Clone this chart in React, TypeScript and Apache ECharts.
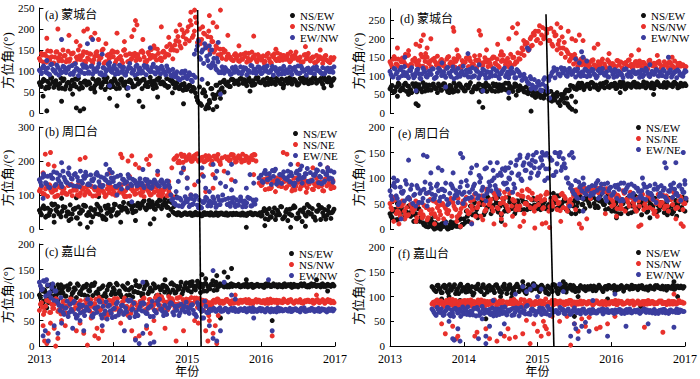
import React, { useEffect, useRef } from "react";
import * as echarts from "echarts";

const _ = null;

// ---------- tick labels ----------
const YEARS = [2013, 2014, 2015, 2016, 2017];

// ---------- data: primary samples every 1/36 year from 2013, secondary/tertiary every 1/18 year ----------
// (a) 蒙城台 left
const aBlackP = [
72,63,80,58,75,68,84,61,77,66,70,59,
81,64,73,57,78,69,62,83,71,60,76,67,
74,58,82,65,70,79,61,73,56,84,68,75,
63,77,70,59,81,66,74,60,79,71,64,82,
69,75,58,80,72,63,85,67,76,61,78,70,
74,66,82,63,77,70,60,72,58,66,54,63,
57,66,52,61,48,30,62,18,55,40,70,25,
58,35,66,45,72,60,78,68,74,63,80,70,
76,68,82,71,79,65,84,73,77,69,81,74,
72,79,67,83,75,70,85,68,78,73,81,66,
77,71,84,69,80,74,67,82,76,72,85,70,
79,73,86,71,77,82,68,80,75,84,72,78];
const aBlackS = [
66,78,60,74,69,83,57,72,65,80,62,76,
70,58,79,67,75,61,82,68,73,59,77,64,
71,80,63,76,68,84,72,61,78,66,59,70,
62,54,38,22,50,12,44,66,57,72,63,79,
74,82,70,78,67,84,75,71,80,73,77,69,
81,74,78,70,83,76,72,80,77,85,74,79];
const aBlackT = [
75,62,83,68,59,77,71,64,81,57,73,69,
60,76,70,84,63,72,58,79,67,75,62,81,
77,65,74,58,81,70,66,79,73,61,68,56,
64,58,25,48,15,58,35,50,75,66,80,73,
80,71,76,66,83,73,79,68,75,82,70,78,
73,79,67,82,75,71,84,77,73,80,76,82];
const aBlackO = [[2013.05,40],[2013.1,5],[2013.3,28],[2013.5,12],[2013.55,5],[2013.6,10],[2013.45,45],[2013.75,50],[2013.95,35],[2014.05,17],[2014.2,42],[2014.35,28],[2014.4,15],[2014.8,48],[2014.95,22],[2014.6,38],[2015.25,10],[2015.28,20],[2015.35,8],[2015.3,30],[2015.4,15],[2015.38,42],[2015.45,35],[2015.5,50],[2016.3,60],[2016.85,60],[2016.95,65],[2015.85,52]];

const aRedP = [
130,142,121,137,148,126,134,119,145,131,139,124,
136,122,147,129,141,118,133,150,127,138,123,144,
128,140,119,135,146,124,132,152,121,137,129,143,
134,120,145,131,126,149,138,122,141,130,136,125,
139,127,148,133,121,144,130,137,155,126,142,131,
145,133,158,138,150,129,162,148,170,155,182,165,
195,172,210,185,228,168,200,175,190,158,182,150,
170,145,160,138,152,130,145,128,140,133,126,138,
131,124,139,128,135,121,142,127,133,138,122,130,
126,136,123,140,129,119,134,128,143,125,131,137,
128,140,122,135,130,145,126,133,121,138,129,142,
124,133,120,137,128,131,118,135,126,122,132,127];
const aRedS = [
125,140,132,118,146,129,137,123,143,128,135,120,
141,127,136,149,122,133,145,130,119,138,127,142,
130,144,125,151,136,128,147,139,158,172,160,190,
205,180,215,165,188,195,170,155,140,148,132,125,
136,129,143,124,132,139,127,135,121,141,130,126,
133,125,138,128,122,136,130,119,134,127,124,130];
const aRedT = [
138,121,147,133,124,150,127,141,119,136,146,131,
124,143,130,118,139,148,126,135,151,123,140,133,
146,122,139,133,152,125,141,164,150,182,198,176,
220,195,175,205,160,180,150,138,152,135,128,141,
123,140,131,145,127,134,119,142,137,125,139,129,
126,135,130,121,139,128,133,124,129,137,120,132];
const aRedO = [[2013.1,178],[2013.25,200],[2013.4,185],[2013.5,170],[2013.6,195],[2013.65,200],[2013.7,180],[2013.75,190],[2013.8,175],[2013.55,160],[2013.9,165],[2014.05,190],[2014.15,170],[2014.25,182],[2014.3,220],[2014.32,210],[2014.28,198],[2014.4,175],[2014.55,160],[2014.65,205],[2014.75,180],[2014.85,195],[2014.9,210],[2015.1,245],[2015.05,240],[2015.3,232],[2015.45,245],[2015.35,215],[2015.4,205],[2015.55,185],[2015.7,160],[2015.9,183],[2016.2,152],[2016.4,145],[2016.6,158],[2016.8,150]];

const aBlueP = [
102,94,112,98,107,91,116,100,95,109,103,97,
110,96,104,92,113,99,106,89,101,115,94,108,
98,111,93,105,100,117,96,108,91,103,112,99,
106,92,101,114,97,109,90,104,118,95,102,111,
94,107,100,113,91,104,98,110,96,108,101,93,
105,97,112,99,90,104,86,98,80,95,84,100,
82,96,78,90,85,160,132,145,118,155,125,140,
115,130,105,122,98,110,95,104,100,92,108,97,
103,95,110,99,106,91,101,113,96,104,98,109,
94,107,100,112,97,103,90,108,99,105,93,111,
101,96,109,92,104,99,112,95,106,100,90,107,
98,105,93,110,101,96,108,94,103,99,106,97];
const aBlueS = [
99,108,93,104,114,96,101,110,92,105,97,112,
95,103,109,91,100,106,113,94,102,98,107,90,
104,96,111,100,93,107,98,105,88,92,79,96,
88,75,150,128,165,112,120,102,96,108,99,104,
100,93,107,97,104,110,95,102,98,106,92,101,
103,97,109,94,100,106,96,104,99,93,107,100];
const aBlueT = [
108,96,115,101,90,111,106,94,117,100,109,95,
112,99,93,107,116,97,104,111,92,109,99,114,
95,109,102,116,98,111,91,101,94,83,99,88,
92,140,172,150,135,108,112,96,104,100,93,110,
96,108,101,112,94,103,109,97,111,99,105,94,
99,106,95,111,102,97,108,101,94,105,98,110];
const aBlueO = [[2013.1,125],[2013.3,175],[2013.65,165],[2013.72,175],[2013.85,140],[2013.95,120],[2014.5,155],[2014.2,60],[2013.95,65],[2015.3,160],[2015.33,150],[2015.4,130],[2015.42,168],[2015.45,45],[2015.2,80]];

// (b) 周口台 left
const bBlackP = [
55,42,68,35,61,48,74,39,57,66,45,52,
63,38,50,71,44,58,33,65,47,54,69,41,
49,62,36,57,73,43,55,30,67,46,59,38,
60,72,48,66,55,78,62,50,74,58,69,53,
76,61,70,83,57,72,65,80,59,74,68,84,
71,79,64,82,58,50,45,42,47,40,44,48,
43,46,41,45,49,42,44,39,47,43,46,41,
45,42,48,40,44,46,43,47,41,45,42,44,
46,43,41,47,44,40,45,48,42,46,43,45,
38,52,30,45,60,35,48,28,55,42,65,33,
50,25,58,40,68,32,46,55,22,62,38,50,
44,60,35,53,70,28,48,57,40,66,31,52];
const bBlackS = [
48,60,40,70,52,36,64,45,58,32,56,67,
42,55,68,38,61,50,73,46,64,57,70,52,
67,80,62,75,58,86,70,64,78,45,43,46,
44,40,46,42,48,43,41,45,47,42,44,46,
43,45,41,47,44,42,40,55,36,62,47,30,
57,42,64,34,50,72,45,26,60,38,54,48];
const bBlackT = [
62,38,55,73,44,66,50,30,61,47,70,40,
58,45,62,35,70,54,41,66,59,75,48,69,
74,62,84,68,79,60,73,82,66,48,42,44,
47,42,45,40,44,48,42,46,43,41,45,43,
44,41,46,43,45,48,60,28,50,40,66,37,
45,62,30,56,41,66,35,52,63,29,47,58];
const bBlackO = [[2013.2,20],[2013.4,25],[2013.55,15],[2013.65,5],[2013.7,20],[2013.9,28],[2014.1,20],[2014.3,25],[2014.5,15],[2014.55,30],[2014.75,40],[2015.8,5],[2016.05,10],[2016.4,5],[2016.6,8],[2014.85,95],[2014.7,90],[2013.3,90],[2013.5,92],[2013.8,95]];

const bRedP = [
112,125,101,118,96,130,108,121,115,99,127,105,
119,103,128,110,98,122,114,131,106,117,100,124,
109,126,97,115,120,104,129,111,95,118,107,123,
116,99,121,108,130,102,113,125,97,119,110,104,
122,106,117,95,127,112,100,119,108,124,99,114,
105,118,98,111,100,95,208,215,200,220,196,212,
205,218,199,213,207,221,202,210,198,216,204,211,
200,214,206,219,197,209,_,_,212,203,217,208,
199,215,206,220,201,212,196,210,204,218,_,135,
128,145,116,138,152,122,140,110,133,147,125,139,
120,143,131,112,149,126,137,118,144,129,108,135,
141,117,132,150,124,138,113,146,127,135,119,142];
const bRedS = [
118,102,125,110,97,121,106,129,114,100,123,108,
104,120,111,128,99,116,107,124,113,96,119,102,
126,110,118,101,123,108,114,98,180,210,195,217,
212,200,220,205,198,215,160,207,_,213,201,218,
209,197,214,203,219,_,130,148,119,141,127,153,
124,139,115,146,131,121,144,128,136,112,149,133];
const bRedT = [
106,128,114,95,124,111,102,131,117,97,120,113,
125,98,115,106,130,103,121,110,95,127,112,118,
100,119,106,128,112,97,121,104,205,195,214,202,
208,216,199,211,203,190,214,200,_,206,219,197,
213,202,208,216,200,_,145,118,137,150,126,141,
137,119,150,126,142,133,116,139,127,146,131,122];
const bRedO = [[2013.08,220],[2013.12,190],[2013.15,225],[2013.05,165],[2013.2,185],[2013.55,205],[2013.62,210],[2013.95,165],[2014.1,220],[2014.12,210],[2014.2,200],[2014.25,215],[2014.3,190],[2014.35,180],[2014.22,155],[2014.45,205],[2014.5,215],[2014.48,190],[2014.6,160],[2014.75,140],[2015.0,150],[2015.1,130],[2015.2,160],[2015.25,110],[2015.45,190],[2015.5,170],[2015.6,145],[2015.9,160],[2016.3,225],[2016.35,220],[2016.5,190],[2016.7,180],[2016.9,180],[2014.95,175],[2015.35,120],[2015.05,100]];

const bBlueP = [
145,128,162,136,155,122,150,168,131,147,158,125,
152,138,165,130,147,160,126,141,170,135,149,157,
133,159,142,124,166,139,153,128,145,161,136,150,
140,126,155,132,118,146,137,121,150,128,143,134,
129,148,135,122,142,131,138,125,144,133,127,140,
136,124,141,130,100,88,75,92,68,85,72,95,
80,66,90,74,98,70,85,62,78,93,68,82,
76,88,64,95,72,84,_,_,90,67,80,74,
86,70,94,65,82,77,91,68,85,73,_,150,
158,137,172,145,163,131,155,176,142,160,134,168,
149,170,139,157,128,165,146,175,135,153,162,140,
166,143,158,174,136,152,169,141,160,147,171,138];
const bBlueS = [
138,156,123,149,165,133,144,160,127,152,140,167,
130,148,158,124,143,136,151,129,146,139,132,142,
137,128,145,120,139,126,133,141,85,70,90,76,
88,72,96,65,83,78,94,69,_,87,75,92,
71,84,66,90,79,_,140,162,150,171,138,157,
146,166,135,159,152,178,141,163,155,137,170,148];
const bBlueT = [
152,133,158,127,141,170,136,149,163,124,155,131,
144,161,128,150,137,166,125,158,134,152,146,127,
131,146,124,137,130,144,127,122,75,92,66,84,
70,86,62,80,91,68,77,85,_,72,90,66,
82,75,93,68,86,_,165,145,172,132,160,150,
155,134,170,149,163,140,158,172,133,161,150,167];
const bBlueO = [[2013.05,90],[2013.3,195],[2013.4,180],[2013.9,190],[2013.95,175],[2014.05,100],[2014.25,80],[2014.4,175],[2014.6,170],[2014.2,160],[2015.0,120],[2014.95,180],[2015.05,100],[2015.0,150],[2015.15,140],[2015.2,180],[2015.22,155],[2015.25,120],[2015.3,110],[2015.35,190],[2015.4,170],[2015.38,150],[2015.45,135],[2015.52,125],[2015.55,165],[2015.6,115],[2015.6,190],[2015.65,140],[2015.8,120],[2015.85,160],[2015.9,135],[2016.4,190],[2016.55,185],[2016.8,190],[2016.9,180],[2014.85,110],[2014.88,140],[2014.92,165],[2015.12,95],[2015.48,100]];

// (c) 嘉山台 left
const cBlackP = [
100,112,88,105,118,93,108,115,97,120,104,111,
116,98,110,122,103,114,95,119,107,113,100,121,
109,117,99,124,106,112,96,118,103,110,121,101,
114,102,120,108,97,116,111,123,100,115,106,119,
105,118,98,112,125,103,114,108,120,99,116,110,
119,106,115,101,122,110,104,117,112,125,108,120,
113,124,106,118,110,127,115,121,108,123,117,112,
120,109,125,117,122,119,116,120,118,121,117,119,
118,121,116,119,117,122,118,120,115,119,121,117,
119,116,121,118,120,117,122,119,116,120,118,121,
117,120,118,115,121,119,116,120,118,122,117,119,
120,118,121,117,119,116,122,118,120,119,117,121];
const cBlackS = [
95,110,85,117,102,120,98,113,106,122,101,116,
108,119,103,115,97,121,110,104,118,99,113,107,
116,102,121,109,114,100,119,111,124,105,117,113,
109,126,118,105,122,114,128,110,121,118,116,120,
119,117,121,118,116,120,119,122,117,118,120,116,
118,121,117,119,120,116,122,118,119,117,121,120];
const cBlackT = [
108,92,120,99,113,104,118,96,111,103,117,98,
121,104,112,99,117,106,123,101,114,110,96,119,
103,118,107,122,99,113,117,105,120,111,102,124,
118,112,124,116,108,121,119,117,120,116,122,118,
117,120,116,121,118,119,115,121,118,120,117,122,
120,117,119,122,118,116,120,119,121,117,119,118];
const cBlackO = [[2013.05,85],[2013.1,75],[2013.15,100],[2013.25,90],[2015.2,140],[2015.25,132],[2015.4,138],[2015.5,145],[2015.6,152],[2015.55,135],[2015.8,130],[2015.85,120],[2016.15,50],[2016.75,130],[2016.9,108],[2015.3,72],[2015.45,55],[2014.7,130],[2014.3,128],[2015.05,125]];

const cRedP = [
70,85,62,78,90,66,82,74,93,68,80,72,
88,65,79,92,71,84,60,76,89,67,81,74,
77,91,64,83,70,95,73,86,62,79,90,68,
84,72,93,66,80,88,75,62,90,78,85,70,
73,87,80,94,68,82,91,76,84,70,88,79,
92,75,86,97,80,89,72,94,83,77,91,85,
88,79,95,84,90,76,93,82,70,89,78,85,
80,90,86,92,84,88,85,91,87,83,89,86,
88,84,90,86,89,85,91,87,83,88,86,90,
86,89,84,91,87,85,90,88,84,89,86,92,
88,85,90,87,84,89,86,91,85,88,87,90,
87,90,85,89,86,88,91,84,89,87,85,88];
const cRedS = [
82,68,88,74,91,63,79,86,70,84,77,90,
69,83,75,90,66,81,93,72,87,78,64,85,
80,92,74,86,95,78,88,71,93,82,96,87,
91,83,94,77,86,60,88,92,85,89,87,84,
89,86,91,84,88,90,85,87,92,86,89,85,
87,91,86,88,84,90,87,89,85,88,91,86];
const cRedT = [
76,90,66,83,71,87,64,92,75,80,68,86,
78,92,70,84,61,89,76,68,94,73,85,80,
88,71,91,79,84,97,75,90,82,94,78,92,
85,94,80,90,87,83,86,89,84,91,88,85,
87,90,85,88,91,86,89,84,87,90,86,88,
90,86,88,85,89,87,84,91,88,86,90,85];
const cRedO = [[2013.05,40],[2013.07,10],[2013.1,5],[2013.12,25],[2013.15,45],[2013.2,35],[2013.22,0],[2013.25,15],[2013.3,50],[2013.35,40],[2013.5,30],[2013.55,45],[2013.6,25],[2013.65,2],[2013.7,55],[2013.75,20],[2013.78,35],[2013.8,15],[2013.85,30],[2013.9,55],[2014.1,45],[2014.2,60],[2014.25,30],[2014.3,15],[2014.35,20],[2014.45,35],[2014.5,25],[2014.55,50],[2014.7,35],[2014.85,10],[2014.95,30],[2015.1,50],[2015.15,45],[2015.25,30],[2015.28,10],[2015.3,50],[2015.35,25],[2015.38,40],[2015.4,5],[2015.42,60],[2016.15,20],[2016.75,100],[2015.65,100],[2014.6,100]];

const cBlueP = [
125,110,128,98,120,105,115,90,108,85,70,78,
62,75,58,82,68,88,55,72,65,80,60,76,
70,84,57,74,66,89,61,78,69,53,80,64,
73,58,86,67,79,62,75,90,56,71,84,66,
60,77,69,83,64,74,58,88,70,65,81,72,
68,80,62,75,85,66,78,71,60,82,73,67,
76,64,80,70,62,85,73,68,55,78,66,72,
70,74,68,72,75,69,71,73,67,72,70,74,
71,68,73,70,74,67,72,69,75,71,68,73,
69,72,67,74,70,73,68,71,75,69,72,70,
72,69,74,68,71,73,70,67,72,75,69,71,
70,73,68,71,74,69,72,70,67,73,71,69];
const cBlueS = [
118,127,102,122,88,95,74,66,85,59,78,70,
83,63,77,55,87,69,74,61,80,67,90,58,
72,85,64,79,68,92,60,75,83,70,65,78,
69,81,58,74,88,66,72,70,68,74,71,73,
69,72,70,74,68,71,73,70,67,72,74,69,
71,68,73,70,72,69,74,71,68,72,70,73];
const cBlueT = [
112,130,95,108,80,66,88,72,62,81,68,92,
59,74,86,63,78,56,83,70,66,88,73,61,
84,67,76,58,88,73,66,82,61,79,71,86,
75,63,80,70,66,72,70,73,69,71,74,68,
72,70,73,68,71,74,69,72,70,67,73,71,
69,72,70,74,68,71,72,69,73,71,70,72];
const cBlueO = [[2013.05,20],[2013.08,30],[2013.12,10],[2013.2,40],[2013.25,25],[2013.3,45],[2013.45,35],[2013.55,50],[2013.6,30],[2013.85,40],[2014.15,30],[2014.3,12],[2014.35,5],[2014.4,25],[2014.5,5],[2014.55,8],[2014.45,40],[2014.4,125],[2015.2,55],[2015.3,40],[2015.35,15],[2015.4,10],[2015.45,30],[2015.5,125],[2015.35,148],[2016.1,130],[2015.9,55],[2016.15,30],[2015.6,100],[2015.65,92]];

// (d) 蒙城台 right
const dBlackP = [
65,74,56,70,80,60,68,77,58,72,63,79,
71,57,76,64,82,59,69,75,62,78,66,55,
73,61,79,67,57,74,64,81,70,59,76,68,
60,75,68,82,57,71,65,78,62,74,69,58,
72,64,79,58,70,76,61,68,80,63,73,66,
69,77,60,73,64,57,70,52,63,48,58,45,
55,42,60,48,52,38,58,45,35,55,28,50,
40,58,25,62,45,70,65,75,68,80,63,74,
77,66,82,70,75,63,79,72,68,84,71,76,
73,80,67,76,71,83,65,78,74,69,82,72,
79,70,75,84,68,77,73,81,66,76,80,71,
74,82,69,78,75,71,83,77,70,80,73,79];
const dBlackS = [
70,60,77,63,73,55,79,66,71,61,75,67,
63,78,68,56,74,70,60,76,65,72,58,80,
67,73,59,75,62,70,78,61,66,54,60,42,
50,40,55,32,48,20,52,60,72,64,78,70,
71,79,66,75,82,69,77,73,80,68,76,83,
76,72,81,68,78,74,70,82,75,79,71,77];
const dBlackT = [
58,71,65,80,60,74,68,57,76,63,70,78,
75,64,72,59,79,66,73,57,70,77,62,74,
60,77,69,64,80,58,72,66,57,62,48,52,
45,58,35,50,28,45,62,74,66,80,72,77,
82,74,68,80,71,77,66,83,72,78,74,70,
73,80,76,70,84,72,79,75,81,68,77,74];
const dBlackO = [[2013.1,45],[2013.25,50],[2013.35,25],[2013.38,20],[2013.8,55],[2014.2,30],[2014.25,15],[2014.6,40],[2014.7,48],[2014.9,5],[2015.3,35],[2015.35,28],[2015.4,20],[2015.45,10],[2015.42,15],[2015.38,40],[2015.5,30],[2015.5,5],[2016.1,55],[2016.55,50],[2015.25,45],[2015.2,40]];

const dRedP = [
138,125,152,132,145,120,148,135,128,156,131,142,
147,130,141,158,126,139,150,133,124,145,137,153,
129,144,136,121,150,133,127,146,139,155,125,141,
136,148,125,140,131,154,122,143,135,128,149,137,
142,126,151,134,145,123,139,156,130,147,136,128,
150,138,162,145,175,155,190,168,200,182,210,195,
220,188,230,205,215,195,228,180,208,170,195,160,
175,150,165,140,155,132,148,125,140,130,145,127,
136,124,142,130,121,138,127,145,132,120,139,128,
133,122,141,129,137,118,135,126,143,131,124,138,
127,140,123,136,130,119,142,128,134,121,137,131,
125,138,129,121,135,127,140,123,132,126,130,124];
const dRedS = [
132,146,124,140,155,130,138,127,150,136,143,129,
140,127,152,134,145,122,137,149,131,141,128,144,
134,150,127,143,138,158,132,146,170,188,205,220,
235,200,225,185,210,175,190,160,150,138,145,132,
131,143,126,138,124,135,129,141,122,136,127,133,
129,136,122,131,126,139,124,133,128,120,134,127];
const dRedT = [
145,130,138,158,126,142,134,151,122,140,147,133,
128,145,137,124,151,133,146,127,142,155,136,125,
147,131,156,140,125,149,137,160,185,172,215,198,
210,225,195,218,185,205,170,145,158,130,140,125,
139,128,134,120,143,130,125,137,133,142,121,138,
132,124,140,127,135,121,131,138,123,133,129,125];
const dRedO = [[2013.1,175],[2013.25,168],[2013.35,185],[2013.42,195],[2013.45,210],[2013.4,180],[2013.5,175],[2013.48,160],[2013.55,200],[2013.85,230],[2013.86,220],[2013.9,170],[2014.2,222],[2014.22,210],[2014.3,170],[2014.45,185],[2014.5,165],[2014.6,200],[2014.65,230],[2014.7,215],[2014.72,240],[2014.8,195],[2014.9,180],[2015.25,240],[2015.3,230],[2015.4,220],[2015.45,200],[2015.5,195],[2015.55,210],[2015.6,195],[2015.75,175],[2015.8,185],[2015.95,160],[2016.25,155],[2016.35,170],[2016.6,155],[2016.8,150]];

const dBlueP = [
112,98,120,105,93,117,101,125,108,95,114,103,
99,116,106,92,121,110,97,113,104,119,95,108,
118,101,111,96,123,105,114,92,109,120,99,112,
103,115,97,110,122,100,113,94,107,118,102,111,
96,109,119,101,112,93,106,117,98,110,104,121,
107,95,113,100,88,104,92,80,98,75,90,70,
85,62,78,95,68,88,100,112,95,118,105,122,
108,115,99,120,104,112,97,118,106,110,101,116,
112,100,118,105,95,114,108,120,102,111,97,115,
104,117,99,112,107,95,119,103,110,98,114,106,
109,96,115,102,120,106,98,112,104,117,100,110,
101,113,97,108,116,103,110,95,112,105,99,114];
const dBlueS = [
104,118,96,111,100,122,107,94,115,102,119,97,
113,101,108,124,96,110,103,117,99,112,106,93,
108,119,98,113,104,116,95,110,101,85,92,65,
75,90,58,108,115,100,120,110,106,114,99,118,
104,116,99,111,107,121,96,113,102,118,105,109,
111,98,115,104,109,100,117,106,97,112,103,108];
const dBlueT = [
97,110,123,101,115,95,118,105,99,112,93,120,
106,120,98,114,103,126,109,96,118,101,115,110,
100,114,106,121,95,110,117,103,93,78,70,82,
60,72,98,122,105,116,101,112,117,103,110,98,
113,102,118,107,98,114,110,104,117,99,112,106,
105,113,100,110,115,104,98,111,107,116,101,112];
const dBlueO = [[2013.2,150],[2013.7,135],[2014.05,160],[2013.35,60],[2013.75,70],[2014.2,130],[2014.25,60],[2014.6,55],[2014.85,175],[2014.87,170],[2014.9,65],[2015.5,145],[2015.55,135],[2015.58,165],[2015.6,150],[2015.65,140],[2016.5,130],[2016.75,150],[2015.15,40]];

// (e) 周口台 right
const eBlackP = [
30,22,38,18,42,27,35,20,33,45,25,31,
28,15,40,22,12,8,15,5,10,3,12,6,
2,10,5,14,0,8,3,12,6,18,4,9,
20,35,15,45,28,52,38,25,48,60,33,42,
55,30,46,62,38,50,27,58,44,35,53,40,
48,36,55,42,60,38,52,45,40,57,47,43,
50,38,46,55,42,48,60,44,52,40,65,47,
42,55,38,50,30,45,60,52,65,48,58,62,
55,45,62,50,58,42,66,52,48,60,40,55,
48,35,55,42,30,50,38,60,45,32,52,40,
38,50,28,45,55,35,48,42,58,30,46,52,
44,32,50,40,58,36,47,25,53,41,62,35];
const eBlackS = [
25,38,20,35,28,42,30,15,8,4,14,2,
7,15,1,11,5,20,13,30,42,22,55,36,
45,60,33,50,40,56,30,48,54,38,44,58,
42,52,46,38,55,48,58,35,50,44,62,40,
50,63,45,57,38,52,44,30,58,40,48,35,
42,55,33,48,60,37,50,28,45,56,38,50];
const eBlackT = [
35,18,42,26,32,15,40,22,5,12,0,8,
10,3,14,6,18,9,25,45,30,50,28,62,
38,52,45,35,62,42,55,38,50,46,60,40,
55,40,48,60,42,52,38,46,55,62,48,58,
60,42,55,48,65,35,50,40,55,30,45,62,
50,38,56,44,35,52,40,60,34,48,42,55];
const eBlackO = [[2013.1,50],[2013.25,45],[2013.55,20],[2013.6,25],[2013.7,5],[2014.3,65],[2014.4,70],[2014.45,62],[2015.2,70],[2015.25,65],[2015.45,50],[2015.5,30],[2015.55,35],[2016.05,22],[2016.3,65],[2016.5,22],[2016.8,30],[2013.68,0],[2014.5,15]];

const eRedP = [
50,38,62,30,45,25,55,35,42,28,48,33,
40,22,52,35,28,45,18,38,30,55,25,42,
35,48,20,40,30,55,25,45,38,60,32,50,
45,62,30,55,38,68,42,50,25,60,35,72,
48,58,35,65,42,75,30,52,62,40,70,45,
55,38,68,45,75,30,50,62,42,70,35,58,
48,65,40,58,72,35,55,45,62,38,52,68,
42,60,35,55,48,65,38,70,76,72,78,74,
75,79,73,77,80,71,76,78,74,79,72,60,
55,70,40,62,48,75,35,58,45,68,52,38,
60,45,72,38,55,65,42,58,30,50,68,46,
52,40,65,35,58,48,70,42,55,62,38,50];
const eRedS = [
42,58,32,50,26,40,55,30,46,22,38,52,
28,44,36,52,24,40,48,32,58,42,65,38,
52,70,40,60,46,72,55,38,64,48,58,44,
60,42,70,50,58,36,64,48,73,77,74,80,
78,72,76,80,73,62,48,66,40,58,72,45,
55,68,42,60,35,52,66,45,58,40,64,50];
const eRedT = [
55,35,45,28,60,38,48,22,42,58,30,45,
50,32,60,40,28,55,36,45,25,62,48,55,
42,60,50,72,36,58,45,65,50,75,40,62,
55,68,44,62,50,70,40,58,76,72,79,75,
73,77,80,74,78,45,62,40,70,52,60,35,
62,48,70,38,55,65,45,58,72,42,55,60];
const eRedO = [[2013.05,15],[2013.12,10],[2013.2,20],[2013.35,15],[2013.45,25],[2013.6,10],[2013.65,20],[2013.9,15],[2013.95,5],[2014.1,12],[2014.25,18],[2014.4,10],[2014.5,20],[2014.55,8],[2014.65,25],[2014.75,5],[2014.8,15],[2014.95,2],[2015.05,10],[2015.1,12],[2015.15,3],[2015.3,15],[2015.55,10],[2015.58,2],[2015.65,20],[2015.7,60],[2015.9,30],[2016.05,25],[2016.35,5],[2016.38,8],[2016.6,25],[2016.85,20],[2016.92,10],[2016.95,5],[2013.5,70],[2014.3,78],[2014.85,78]];

const eBlueP = [
75,58,90,65,48,82,70,55,88,62,78,50,
68,85,52,75,60,92,45,72,80,58,66,88,
55,78,64,90,48,70,85,60,75,52,82,68,
72,95,60,110,78,88,125,65,100,82,118,70,
92,75,115,85,130,68,105,90,120,78,98,110,
88,125,105,140,95,130,115,145,100,135,120,150,
110,140,125,95,148,118,135,105,150,128,142,115,
138,120,100,145,85,70,95,60,82,75,88,68,
78,65,85,72,90,60,80,70,88,55,75,82,
68,85,60,78,90,55,72,82,65,88,70,58,
80,62,75,88,58,72,85,66,78,52,82,70,
65,80,58,75,86,62,78,70,84,56,72,88];
const eBlueS = [
65,82,52,74,60,86,45,70,78,55,68,84,
62,75,50,80,66,92,58,72,84,60,76,55,
85,100,72,118,90,130,80,108,125,140,110,132,
120,145,100,135,112,150,128,90,75,62,85,70,
82,68,76,88,62,80,72,86,58,78,66,84,
74,60,82,70,88,64,76,55,80,68,86,72];
const eBlueT = [
85,60,72,95,58,66,80,52,70,88,60,75,
78,58,88,66,72,50,85,62,70,92,65,78,
95,78,110,88,120,72,135,98,115,128,145,105,
135,118,140,105,148,122,100,80,68,92,60,78,
70,85,62,78,90,66,82,55,74,86,64,80,
66,82,70,58,78,85,62,74,90,65,78,60];
const eBlueO = [[2013.05,100],[2013.1,95],[2013.25,135],[2013.45,145],[2013.5,142],[2013.55,110],[2013.65,120],[2013.7,115],[2013.85,110],[2013.95,148],[2013.98,140],[2014.1,120],[2014.2,105],[2014.3,120],[2014.35,130],[2014.45,105],[2014.55,115],[2014.6,100],[2014.75,145],[2014.9,125],[2015.05,150],[2015.1,145],[2015.45,150],[2015.47,140],[2015.6,100],[2015.8,95],[2016.05,85],[2016.15,90],[2016.4,100],[2016.7,130],[2016.72,120],[2016.85,130],[2016.95,150],[2016.97,95],[2013.75,12],[2014.1,10],[2015.42,45],[2015.6,35],[2013.15,20]];

// (f) 嘉山台 right
const fBlackP = [
_,_,_,_,_,_,_,_,_,_,_,_,
_,_,_,_,_,_,_,_,_,118,112,122,
115,108,121,117,110,124,113,119,106,116,122,111,
118,109,123,114,120,107,116,125,112,119,104,117,
121,113,118,108,124,116,111,120,115,106,122,118,
112,119,125,110,117,122,108,115,120,113,126,116,
119,110,123,115,108,121,117,112,124,118,106,120,
114,121,109,118,123,113,119,116,111,122,117,120,
118,115,121,112,119,116,123,117,110,120,115,122,
117,121,113,119,116,122,111,118,120,115,123,117,
120,114,118,122,116,119,113,121,117,115,120,118,
116,121,118,113,120,117,122,115,119,118,121,117];
const fBlackS = [
_,_,_,_,_,_,_,_,_,_,120,110,
116,123,107,119,112,125,114,118,103,121,110,117,
122,113,119,108,116,124,111,120,115,106,118,123,
114,120,109,117,123,112,119,116,121,110,118,115,
120,117,112,119,116,122,118,114,121,117,119,116,
118,121,115,119,117,122,116,120,118,115,121,119];
const fBlackT = [
_,_,_,_,_,_,_,_,_,_,114,123,
108,120,115,124,106,117,121,110,119,114,124,109,
117,123,110,119,114,106,121,117,112,124,115,119,
121,115,118,124,110,120,113,117,122,116,119,112,
116,121,119,114,120,118,122,115,118,121,116,120,
121,116,119,117,122,118,115,120,117,121,118,120];
const fBlackO = [[2013.7,95],[2013.8,100],[2013.95,92],[2014.05,110],[2014.3,55],[2014.5,100],[2014.55,125],[2014.8,130],[2014.95,125],[2015.35,130],[2015.38,125],[2015.5,60],[2015.55,100],[2015.95,95],[2016.05,110],[2016.4,80],[2016.85,130],[2016.9,100],[2015.2,110],[2015.15,105],[2014.65,98]];

const fRedP = [
_,_,_,_,_,_,_,_,_,_,_,_,
_,_,_,_,_,_,_,_,_,88,82,93,
86,91,80,89,84,94,87,81,92,85,90,83,
89,84,92,86,81,90,88,93,83,87,91,85,
84,90,87,93,82,88,85,91,80,89,86,92,
90,83,88,85,94,81,89,86,92,84,87,90,
86,91,83,88,95,80,87,92,84,89,85,91,
88,84,90,86,92,83,89,87,85,91,86,88,
85,90,87,83,89,91,86,88,84,90,87,85,
89,86,92,84,88,90,85,87,91,86,89,83,
87,91,85,89,84,88,92,86,90,85,87,89,
90,86,88,84,91,87,85,89,86,92,88,87];
const fRedS = [
_,_,_,_,_,_,_,_,_,_,85,91,
90,83,88,94,81,87,92,84,89,86,93,82,
88,92,85,90,83,87,94,86,82,89,91,84,
87,90,84,88,92,85,89,86,91,83,88,90,
86,89,91,85,88,87,90,84,89,86,88,91,
88,85,90,87,89,86,91,88,85,90,87,89];
const fRedT = [
_,_,_,_,_,_,_,_,_,_,89,83,
86,92,84,89,80,91,86,93,83,88,85,90,
84,89,91,82,88,85,90,87,93,84,86,89,
91,85,88,83,90,87,84,92,86,89,85,88,
89,85,87,90,84,89,86,91,85,88,90,86,
86,90,85,89,87,91,86,88,90,85,89,87];
const fRedO = [[2013.7,45],[2013.75,25],[2013.85,40],[2013.9,15],[2013.92,20],[2014.15,20],[2014.18,28],[2014.3,35],[2014.35,15],[2014.45,10],[2014.55,20],[2014.6,35],[2014.62,15],[2014.7,18],[2014.8,25],[2014.9,5],[2014.95,45],[2015.0,30],[2015.05,20],[2015.08,50],[2015.1,40],[2015.12,35],[2015.15,25],[2015.2,60],[2015.3,50],[2015.4,60],[2015.45,2],[2015.5,45],[2015.55,30],[2015.6,55],[2015.65,40],[2015.7,58],[2015.8,35],[2015.85,38],[2015.95,45],[2016.05,60],[2016.45,38],[2016.7,28],[2016.85,105],[2014.85,52]];

const fBlueP = [
_,_,_,_,_,_,_,_,_,_,_,_,
_,_,_,_,_,_,_,_,_,72,65,78,
68,75,62,71,78,64,73,60,76,67,74,70,
65,72,79,63,70,76,61,74,68,80,66,73,
71,64,77,69,62,75,72,66,79,63,70,74,
76,68,73,61,78,70,65,82,67,74,71,63,
70,77,64,73,68,80,62,75,69,72,66,78,
73,66,71,75,64,70,77,68,72,65,74,69,
68,72,66,74,70,67,73,71,65,70,74,68,
71,67,73,69,74,66,70,72,68,75,67,71,
69,73,66,71,75,68,70,72,67,74,70,66,
72,68,74,70,66,73,69,71,75,68,72,70];
const fBlueS = [
_,_,_,_,_,_,_,_,_,_,75,62,
70,64,77,67,73,60,75,69,63,78,66,72,
74,61,70,78,66,72,63,76,68,80,64,71,
69,76,65,73,70,67,74,71,66,72,69,75,
70,73,67,71,74,68,72,69,73,66,71,70,
72,69,74,68,71,70,73,67,72,70,68,71];
const fBlueT = [
_,_,_,_,_,_,_,_,_,_,68,74,
66,73,61,75,68,79,64,71,76,62,74,68,
67,75,64,70,73,62,77,69,72,65,75,68,
72,66,74,68,71,76,65,70,73,68,72,66,
73,68,71,75,69,70,66,73,71,74,68,72,
68,71,73,70,66,72,74,69,71,68,73,70];
const fBlueO = [[2013.8,50],[2013.85,15],[2013.87,12],[2013.92,35],[2013.95,10],[2014.2,15],[2014.25,55],[2014.3,20],[2014.3,5],[2014.35,40],[2014.5,25],[2014.55,45],[2014.7,105],[2014.8,120],[2014.85,110],[2014.9,115],[2014.95,122],[2015.0,100],[2015.05,115],[2015.3,125],[2015.35,110],[2015.45,20],[2015.5,45],[2015.52,35],[2015.55,15],[2015.6,40],[2015.65,48],[2015.7,30],[2015.95,20],[2016.05,105],[2016.2,40],[2016.5,45],[2016.85,38],[2015.75,92],[2014.4,92]];

// event line endpoints [year, value]
const EVENT_LEFT = { top: [2015.141, 245], bottom: [2015.188, 0] };
const EVENT_RIGHT = { top: [2015.101, 266], bottom: [2015.222, 0] };

// ---------- styling ----------
const COLORS = ["#111111", "#e8312c", "#3b3d9e"];
const SERIF = "'Liberation Serif','Times New Roman',serif";
const CJK = "'Liberation Serif','Noto Sans CJK SC',serif";

function pts(p: (number | null)[], s: (number | null)[], t: (number | null)[], o: number[][]) {
  const out: number[][] = [];
  p.forEach((v, i) => { if (v != null) out.push([2013 + i / 36, v]); });
  s.forEach((v, j) => { if (v != null) out.push([2013 + (j + 0.25) / 18, v]); });
  t.forEach((v, j) => { if (v != null) out.push([2013 + (j + 0.75) / 18, v]); });
  o.forEach((q) => out.push(q));
  return out;
}

const PANELS = [
  { title: "(a) 蒙城台", names: ["NS/EW", "NS/NW", "EW/NW"], max: 250, interval: 50,
    grid: { left: 38, top: 8, width: 297, height: 105 }, legend: { left: 290, top: 10 }, tpos: { left: 45, top: 9 },
    data: [pts(aBlackP, aBlackS, aBlackT, aBlackO), pts(aRedP, aRedS, aRedT, aRedO), pts(aBlueP, aBlueS, aBlueT, aBlueO)] },
  { title: "(b) 周口台", names: ["NS/EW", "NS/NE", "EW/NE"], max: 300, interval: 100,
    grid: { left: 38, top: 127, width: 297, height: 102 }, legend: { left: 293, top: 128 }, tpos: { left: 45, top: 126 },
    data: [pts(bBlackP, bBlackS, bBlackT, bBlackO), pts(bRedP, bRedS, bRedT, bRedO), pts(bBlueP, bBlueS, bBlueT, bBlueO)] },
  { title: "(c) 嘉山台", names: ["NS/EW", "NS/NW", "EW/NW"], max: 200, interval: 50,
    grid: { left: 38, top: 244, width: 297, height: 105 }, legend: { left: 289, top: 248 }, tpos: { left: 45, top: 246 },
    data: [pts(cBlackP, cBlackS, cBlackT, cBlackO), pts(cRedP, cRedS, cRedT, cRedO), pts(cBlueP, cBlueS, cBlueT, cBlueO)] },
  { title: "(d) 蒙城台", names: ["NS/EW", "NS/NW", "EW/NW"], max: 280, interval: 50, custom: [0, 50, 100, 150, 200, 250],
    grid: { left: 390, top: 9, width: 297, height: 104 }, legend: { left: 641, top: 10 }, tpos: { left: 400, top: 13 },
    data: [pts(dBlackP, dBlackS, dBlackT, dBlackO), pts(dRedP, dRedS, dRedT, dRedO), pts(dBlueP, dBlueS, dBlueT, dBlueO)] },
  { title: "(e) 周口台", names: ["NS/EW", "NS/NE", "EW/NE"], max: 200, interval: 50,
    grid: { left: 390, top: 127, width: 297, height: 102 }, legend: { left: 636, top: 122 }, tpos: { left: 398, top: 128 },
    data: [pts(eBlackP, eBlackS, eBlackT, eBlackO), pts(eRedP, eRedS, eRedT, eRedO), pts(eBlueP, eBlueS, eBlueT, eBlueO)] },
  { title: "(f) 嘉山台", names: ["NS/EW", "NS/NW", "EW/NW"], max: 200, interval: 50,
    grid: { left: 390, top: 247, width: 297, height: 102 }, legend: { left: 636, top: 247 }, tpos: { left: 398, top: 248 },
    data: [pts(fBlackP, fBlackS, fBlackT, fBlackO), pts(fRedP, fRedS, fRedT, fRedO), pts(fBlueP, fBlueS, fBlueT, fBlueO)] },
];

const BOTTOM = [2, 5];

export default function App() {
  const ref = useRef<HTMLDivElement>(null);
  useEffect(() => {
    document.body.style.margin = "0";
    const chart = echarts.init(ref.current!, null, { renderer: "svg" });
    const grid: any[] = [];
    const xAxis: any[] = [];
    const yAxis: any[] = [];
    const series: any[] = [];
    const legend: any[] = [];
    const title: any[] = [];
    PANELS.forEach((p, k) => {
      grid.push({ ...p.grid });
      const isBottom = BOTTOM.includes(k);
      xAxis.push({
        type: "value", gridIndex: k, min: YEARS[0], max: YEARS[YEARS.length - 1], interval: 1,
        show: isBottom,
        axisLine: { show: true, lineStyle: { color: "#000", width: 1 } },
        axisTick: { show: true, inside: true, length: 4, lineStyle: { color: "#000" } },
        axisLabel: { show: true, fontFamily: SERIF, fontSize: 12, color: "#000", margin: 7, formatter: (v: number) => String(v) },
        splitLine: { show: false },
        name: isBottom ? "年份" : "", nameLocation: "middle", nameGap: 19,
        nameTextStyle: { fontFamily: CJK, fontSize: 12, color: "#000" },
      });
      const yl: any = { fontFamily: SERIF, fontSize: 11, color: "#000", margin: 5 };
      const yt: any = { show: true, inside: true, length: 4, lineStyle: { color: "#000" } };
      if ((p as any).custom) { yl.customValues = (p as any).custom; yt.customValues = (p as any).custom; }
      yAxis.push({
        type: "value", gridIndex: k, min: 0, max: p.max, interval: p.interval,
        axisLine: { show: true, lineStyle: { color: "#000", width: 1 } },
        axisTick: yt, axisLabel: yl, splitLine: { show: false },
        name: "方位角/(°)", nameLocation: "middle", nameGap: 19, nameRotate: 90,
        nameTextStyle: { fontFamily: CJK, fontSize: 13, color: "#000" },
      });
      p.names.forEach((nm, s) => {
        series.push({
          type: "scatter", name: nm, xAxisIndex: k, yAxisIndex: k, data: p.data[s],
          symbol: "circle", symbolSize: 5, silent: true,
          itemStyle: { color: COLORS[s], opacity: 1 },
        });
      });
      legend.push({
        data: p.names, orient: "vertical", left: p.legend.left, top: p.legend.top,
        icon: "circle", itemWidth: 5, itemHeight: 5, itemGap: 0, padding: 0,
        selectedMode: false,
        textStyle: { fontFamily: SERIF, fontSize: 11, lineHeight: 11, color: "#000" },
      });
      title.push({
        text: p.title, left: p.tpos.left, top: p.tpos.top, padding: 0,
        textStyle: { fontFamily: CJK, fontSize: 12, fontWeight: "normal", color: "#000" },
      });
    });
    chart.setOption({
      animation: false, backgroundColor: "#fff",
      grid, xAxis, yAxis, series, legend, title,
    });
    const lt = chart.convertToPixel({ xAxisIndex: 0, yAxisIndex: 0 }, EVENT_LEFT.top) as number[];
    const lb = chart.convertToPixel({ xAxisIndex: 2, yAxisIndex: 2 }, EVENT_LEFT.bottom) as number[];
    const rt = chart.convertToPixel({ xAxisIndex: 3, yAxisIndex: 3 }, EVENT_RIGHT.top) as number[];
    const rb = chart.convertToPixel({ xAxisIndex: 5, yAxisIndex: 5 }, EVENT_RIGHT.bottom) as number[];
    chart.setOption({
      graphic: [
        { type: "line", z: 100, shape: { x1: lt[0], y1: lt[1], x2: lb[0], y2: lb[1] }, style: { stroke: "#000", lineWidth: 1.6 } },
        { type: "line", z: 100, shape: { x1: rt[0], y1: rt[1], x2: rb[0], y2: rb[1] }, style: { stroke: "#000", lineWidth: 1.6 } },
      ],
    });
    return () => chart.dispose();
  }, []);
  return <div ref={ref} style={{ position: "absolute", left: 0, top: 0, width: 700, height: 379, background: "#fff" }} />;
}
